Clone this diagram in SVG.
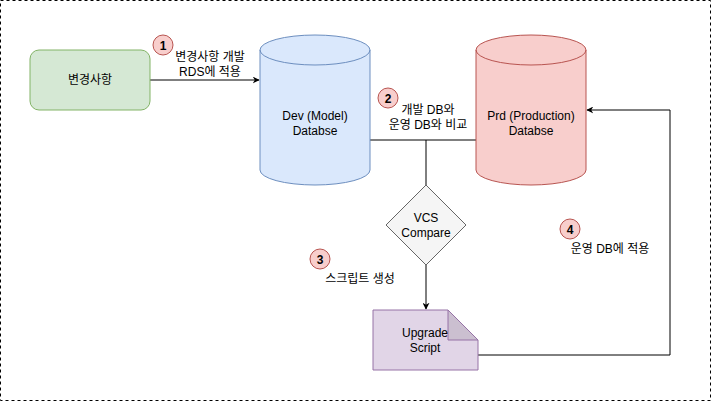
<svg xmlns="http://www.w3.org/2000/svg" width="711" height="401" viewBox="0 0 711 401">
<style>
text{font-family:"Liberation Sans","Noto Sans CJK KR",Arial,sans-serif;font-size:12px;fill:#000;text-anchor:middle}
.edge{fill:none;stroke:#000;stroke-width:1}
.num{fill:#f8cecc;stroke:#b85450;stroke-width:1}
.numt{font-weight:bold;font-size:12px}
</style>
<defs>
<marker id="arr" viewBox="0 0 10 10" refX="9" refY="5" markerWidth="7" markerHeight="7" orient="auto" markerUnits="userSpaceOnUse">
<path d="M0,0 L10,5 L0,10 L3,5 Z" fill="#000"/>
</marker>
</defs>
<rect x="0.5" y="0.5" width="710" height="400" fill="#fff" stroke="#000" stroke-dasharray="3,3"/>
<g id="connectors">
<path class="edge" d="M150,80 L259,80" marker-end="url(#arr)"/>
<path class="edge" d="M370,140 L476,140"/>
<path class="edge" d="M426,140 L426,185"/>
<path class="edge" d="M426,265 L426,309" marker-end="url(#arr)"/>
<path class="edge" d="M478,355 L670,355 L670,110 L587,110" marker-end="url(#arr)"/>
</g>
<g id="change">
<rect x="30" y="50" width="120" height="60" rx="9" ry="9" fill="#d5e8d4" stroke="#82b366"/>
<text x="90" y="84">변경사항</text>
</g>
<g id="dev">
<path d="M260,50 A55,15 0 0 1 370,50 L370,170 A55,15 0 0 1 260,170 Z" fill="#dae8fc" stroke="#6c8ebf"/>
<path d="M260,50 A55,15 0 0 0 370,50" fill="none" stroke="#6c8ebf"/>
<text x="315" y="120">Dev (Model)</text>
<text x="315" y="135">Databse</text>
</g>
<g id="prd">
<path d="M476,50 A55,15 0 0 1 586,50 L586,170 A55,15 0 0 1 476,170 Z" fill="#f8cecc" stroke="#b85450"/>
<path d="M476,50 A55,15 0 0 0 586,50" fill="none" stroke="#b85450"/>
<text x="531" y="120">Prd (Production)</text>
<text x="531" y="135">Databse</text>
</g>
<g id="compare">
<path d="M426,185 L466,225 L426,265 L386,225 Z" fill="#f5f5f5" stroke="#666"/>
<text x="426" y="222">VCS</text>
<text x="426" y="237">Compare</text>
</g>
<g id="script">
<path d="M373,310 L448,310 L478,340 L478,370 L373,370 Z" fill="#e1d5e7" stroke="#9673a6"/>
<path d="M448,310 L448,340 L478,340 Z" fill="#cbbfd0" stroke="#9673a6"/>
<text x="425" y="337">Upgrade</text>
<text x="425" y="352">Script</text>
</g>
<g id="step1">
<circle class="num" cx="163" cy="45" r="10"/>
<text class="numt" x="163" y="49.5">1</text>
<text x="210" y="61">변경사항 개발</text>
<text x="210" y="76">RDS에 적용</text>
</g>
<g id="step2">
<circle class="num" cx="388" cy="98" r="10"/>
<text class="numt" x="388" y="102.5">2</text>
<text x="428" y="114">개발 DB와</text>
<text x="428" y="129">운영 DB와 비교</text>
</g>
<g id="step3">
<circle class="num" cx="320" cy="259" r="10"/>
<text class="numt" x="320" y="263.5">3</text>
<text x="360" y="283">스크립트 생성</text>
</g>
<g id="step4">
<circle class="num" cx="570" cy="229" r="10"/>
<text class="numt" x="570" y="233.5">4</text>
<text x="610" y="253">운영 DB에 적용</text>
</g>
</svg>
